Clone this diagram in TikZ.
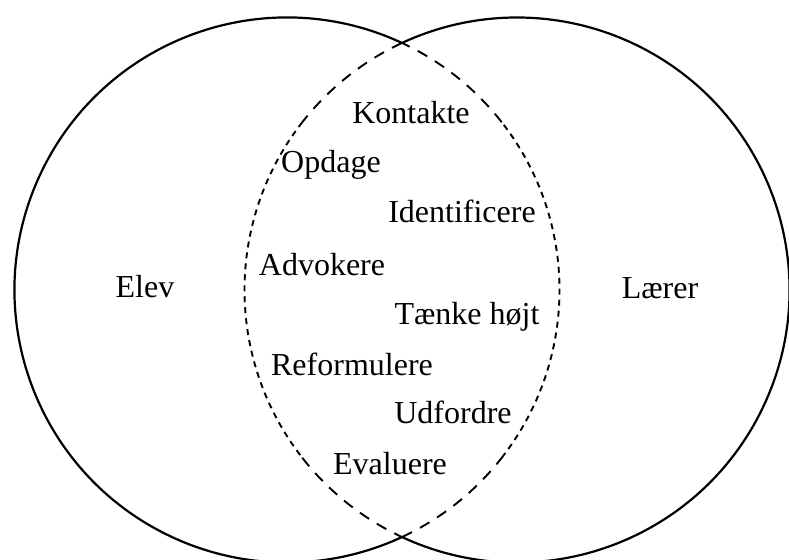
\documentclass[tikz,border=0pt]{standalone}
\usepackage{fontspec}
\setmainfont{Liberation Serif}
\begin{document}
\begin{tikzpicture}[x=1pt,y=1pt,
  ring/.style={line width=2.2pt},
  lens/.style={line width=1.9pt},
  longdash/.style={dash pattern=on 11pt off 9pt},
  shortdash/.style={dash pattern=on 6pt off 5pt},
  lbl/.style={font=\fontsize{32pt}{38pt}\selectfont, inner sep=0pt, anchor=base}]
\useasboundingbox (0,0) rectangle (789,559);
\def\rad{272.5pt}
\coordinate (cL) at (287,269);
\coordinate (cR) at (517,269);

% outer (solid) arcs of the two sets
\draw[ring] (cL) ++(65:\rad) arc[start angle=65, end angle=295, radius=\rad];
\draw[ring] (cR) ++(-115:\rad) arc[start angle=-115, end angle=115, radius=\rad];

% dashed boundary of the overlap
\draw[lens,longdash]  (cL) ++(-65:\rad) arc[start angle=-65, end angle=-38, radius=\rad];
\draw[lens,shortdash] (cL) ++(-38:\rad) arc[start angle=-38, end angle=38, radius=\rad];
\draw[lens,longdash]  (cL) ++(38:\rad)  arc[start angle=38, end angle=65, radius=\rad];
\draw[lens,longdash]  (cR) ++(115:\rad) arc[start angle=115, end angle=142, radius=\rad];
\draw[lens,shortdash] (cR) ++(142:\rad) arc[start angle=142, end angle=218, radius=\rad];
\draw[lens,longdash]  (cR) ++(218:\rad) arc[start angle=218, end angle=245, radius=\rad];

% set labels
\node[lbl] (elev)   at (145,261) {Elev};
\node[lbl] (laerer) at (660,260) {Lærer};

% shared activities
\node[lbl] (kontakte) at (411,435) {Kontakte};
\node[lbl] (opdage)   at (331,386) {Opdage};
\node[lbl] (ident)    at (462,336) {Identificere};
\node[lbl] (advokere) at (322,283) {Advokere};
\node[lbl] (taenke)   at (467,234) {Tænke højt};
\node[lbl] (reform)   at (352,183) {Reformulere};
\node[lbl] (udfordre) at (453,135) {Udfordre};
\node[lbl] (evaluere) at (390,84)  {Evaluere};
\end{tikzpicture}
\end{document}
